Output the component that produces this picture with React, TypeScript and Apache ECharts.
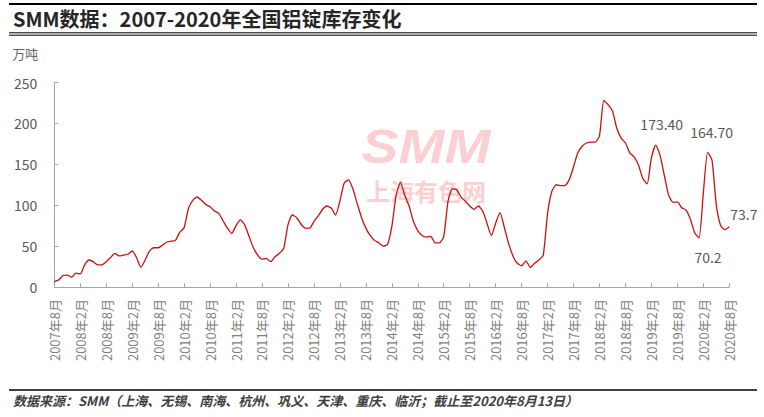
import React, { useEffect, useRef } from 'react';
import * as echarts from 'echarts';

const FONT = '"Noto Sans CJK SC", "Noto Sans", sans-serif';

const TITLE = 'SMM数据：2007-2020年全国铝锭库存变化';
const SOURCE = '数据来源：SMM（上海、无锡、南海、杭州、巩义、天津、重庆、临沂；截止至2020年8月13日）';
const UNIT = '万吨';

// first category: 2007年8月, last: 2020年8月 (monthly)
const START_YEAR = 2007;
const START_MONTH = 8;

// monthly inventory, 万吨
const v2007 = [6.5, 8.5, 14, 14.5, 12]; // Aug-Dec
const v2008 = [17, 16, 27, 33, 31, 27, 27, 31, 36, 41, 38, 39];
const v2009 = [40, 44, 36, 24, 33, 44, 48, 48, 51, 55, 56, 57];
const v2010 = [67, 72.5, 96, 106, 110, 106, 101, 98, 93, 90, 81, 72];
const v2011 = [65.6, 75, 82, 76, 62, 48, 39, 34, 35, 31, 37, 41];
const v2012 = [47, 76, 88, 85, 77, 72, 72, 80, 87, 95, 99, 96.5];
const v2013 = [88, 105, 127, 131, 120, 102, 85, 72, 63, 57, 54, 50];
const v2014 = [52, 73.7, 112, 128, 112, 99, 80, 69, 63, 61, 62, 54];
const v2015 = [54, 62, 105, 120, 119, 110, 105, 99, 95, 99, 93, 78];
const v2016 = [63, 78, 91, 73, 53, 38, 29, 26, 32, 24, 29, 33];
const v2017 = [39, 90, 117, 125, 124, 124, 131, 147, 164, 172, 176, 177];
const v2018 = [177, 185, 228, 223, 215, 194, 182, 176, 164, 159, 149, 133];
const v2019 = [126, 158, 173.4, 161, 136, 112, 103.5, 104, 97, 94, 83, 66];
const v2020 = [60, 115, 164.7, 155, 100, 75, 70.2, 73.7]; // Jan-Aug

const values = [
  ...v2007, ...v2008, ...v2009, ...v2010, ...v2011, ...v2012, ...v2013,
  ...v2014, ...v2015, ...v2016, ...v2017, ...v2018, ...v2019, ...v2020,
];

// annotated points (category index) and their texts
const annotationIndex = [139, 151, 155, 156];
const annotationText = ['173.40', '164.70', '70.2', '73.7'];

const categories: string[] = [];
for (let i = 0; i < values.length; i++) {
  const t = START_MONTH - 1 + i;
  const y = START_YEAR + Math.floor(t / 12);
  const m = (t % 12) + 1;
  categories.push(`${y}年${m}月`);
}

const labelPlacement: Record<number, any> = {
  139: { position: 'top', offset: [6, -9] },
  151: { position: 'top', offset: [4, -8] },
  155: { position: 'bottom', offset: [-17, 15] },
  156: { position: 'right', offset: [-4, -13] },
};

export default function App() {
  const ref = useRef<HTMLDivElement>(null);
  useEffect(() => {
    if (!ref.current) return;
    const chart = echarts.init(ref.current, undefined, { renderer: 'svg' });
    const markData = annotationIndex.map((idx, k) => ({
      coord: [idx, values[idx]],
      value: annotationText[k],
      symbol: 'circle',
      symbolSize: 0,
      label: {
        show: true,
        formatter: annotationText[k],
        color: '#595959',
        fontSize: 14,
        fontFamily: FONT,
        ...labelPlacement[idx],
      },
    }));
    const axisColor = '#a6a6a6';
    const option: any = {
      animation: false,
      backgroundColor: '#ffffff',
      textStyle: { fontFamily: FONT },
      grid: { left: 54.3, right: 34.7, top: 82.5, bottom: 130, containLabel: false },
      xAxis: {
        type: 'category',
        data: categories,
        boundaryGap: false,
        axisLine: { lineStyle: { color: axisColor, width: 1 } },
        axisTick: { show: true, inside: true, length: 4, interval: 5, lineStyle: { color: axisColor } },
        axisLabel: { interval: 5, rotate: 90, margin: 12, color: '#808080', fontSize: 13, fontFamily: FONT },
        splitLine: { show: false },
      },
      yAxis: {
        type: 'value',
        min: 0,
        max: 250,
        interval: 50,
        name: UNIT,
        nameLocation: 'end',
        nameGap: 29,
        nameTextStyle: {
          align: 'right',
          verticalAlign: 'middle',
          padding: [0, 16, 0, 0],
          color: '#666666',
          fontSize: 13,
          fontFamily: FONT,
        },
        axisLine: { show: true, lineStyle: { color: axisColor } },
        axisTick: { show: true, inside: true, length: 4, lineStyle: { color: axisColor } },
        axisLabel: { color: '#595959', fontSize: 14, margin: 17, fontFamily: FONT },
        splitLine: { show: false },
      },
      series: [
        {
          type: 'line',
          data: values,
          symbol: 'none',
          smooth: 0.2,
          z: 5,
          lineStyle: { color: '#cc1010', width: 1.3 },
          markPoint: {
            silent: true,
            data: markData,
            itemStyle: { color: 'transparent' },
          },
        },
      ],
      graphic: [
        { type: 'line', z: 1, shape: { x1: 9, y1: 4, x2: 757, y2: 4 }, style: { stroke: '#000', lineWidth: 2 } },
        { type: 'line', z: 1, shape: { x1: 9, y1: 32.8, x2: 757, y2: 32.8 }, style: { stroke: '#000', lineWidth: 1 } },
        { type: 'line', z: 1, shape: { x1: 9, y1: 35.2, x2: 757, y2: 35.2 }, style: { stroke: '#000', lineWidth: 1 } },
        { type: 'line', z: 1, shape: { x1: 9, y1: 390, x2: 757, y2: 390 }, style: { stroke: '#000', lineWidth: 1.5 } },
        {
          type: 'text', z: 1, x: 13, y: 18,
          style: {
            text: TITLE, fill: '#262626', fontSize: 20, fontWeight: 'bold', fontFamily: FONT,
            textAlign: 'left', align: 'left', textVerticalAlign: 'middle', verticalAlign: 'middle',
          },
        },
        {
          type: 'text', z: 1, x: 13, y: 400,
          style: {
            text: SOURCE, fill: '#404040', fontSize: 13, fontWeight: 'bold', fontStyle: 'italic', fontFamily: FONT,
            textAlign: 'left', align: 'left', textVerticalAlign: 'middle', verticalAlign: 'middle',
          },
        },
        {
          type: 'text', z: 0, x: 426, y: 146, scaleX: 1.15,
          style: {
            text: 'SMM', fill: '#fcd0d2', fontSize: 48, lineHeight: 40, fontWeight: 'bold', fontStyle: 'italic',
            fontFamily: '"Liberation Sans", sans-serif',
            textAlign: 'center', align: 'center', textVerticalAlign: 'middle', verticalAlign: 'middle',
          },
        },
        {
          type: 'text', z: 0, x: 426, y: 190,
          style: {
            text: '上海有色网', fill: '#fcd0d2', fontSize: 24, lineHeight: 24, fontWeight: 'bold', fontFamily: FONT,
            textAlign: 'center', align: 'center', textVerticalAlign: 'middle', verticalAlign: 'middle',
          },
        },
      ],
    };
    chart.setOption(option);
    return () => chart.dispose();
  }, []);
  return <div ref={ref} style={{ position: 'fixed', left: 0, top: 0, width: 764, height: 417 }} />;
}
